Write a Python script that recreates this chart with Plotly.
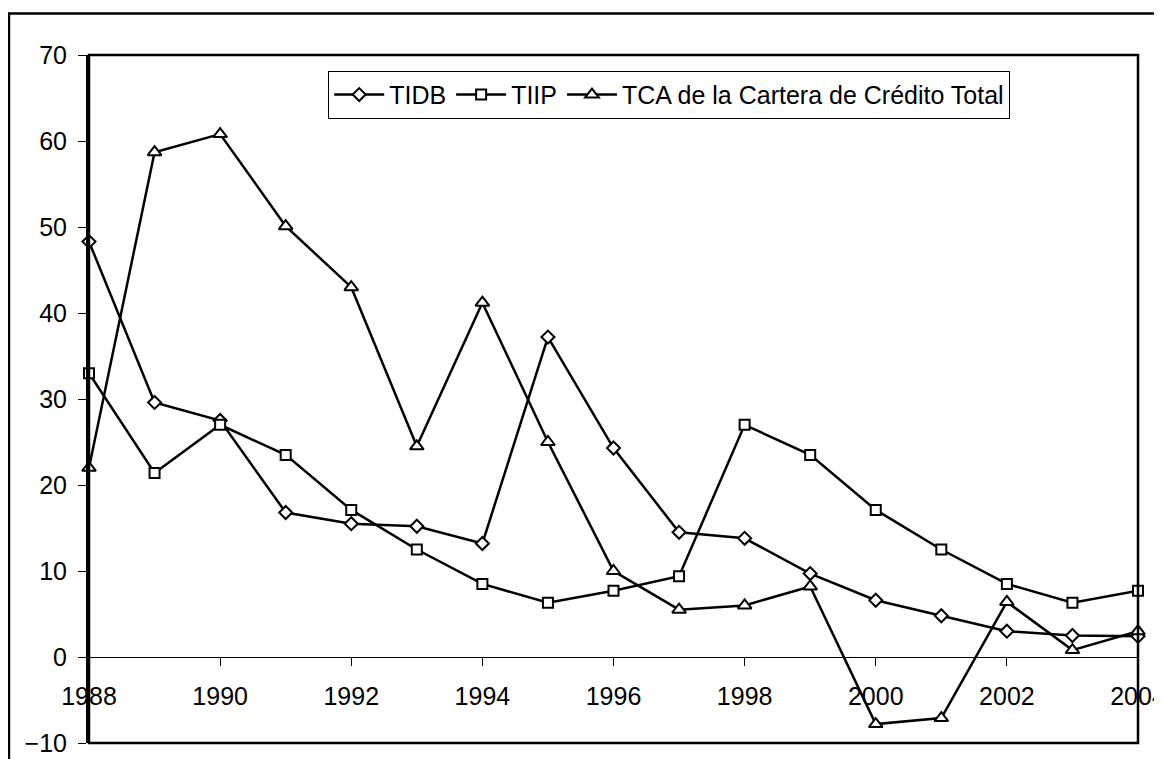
import plotly.graph_objects as go

# years on the x axis
years = list(range(1988, 2005))

# values
tidb = [48.3, 29.6, 27.5, 16.8, 15.5, 15.2, 13.2, 37.2, 24.3, 14.5, 13.8, 9.7, 6.6, 4.8, 3.0, 2.5, 2.4]
tiip = [33.0, 21.4, 27.0, 23.5, 17.1, 12.5, 8.5, 6.3, 7.7, 9.4, 27.0, 23.5, 17.1, 12.5, 8.5, 6.3, 7.7]
tca = [22.0, 58.7, 60.8, 50.1, 43.0, 24.5, 41.2, 25.0, 10.0, 5.5, 6.0, 8.2, -7.8, -7.1, 6.4, 0.8, 3.0]

series_names = ["TIDB", "TIIP", "TCA de la Cartera de Crédito Total"]

FONT = "Liberation Sans, Arial, sans-serif"

fig = go.Figure()

for name, vals, sym, sz in [
    (series_names[0], tidb, "diamond", 10),
    (series_names[1], tiip, "square", 10),
    (series_names[2], tca, "triangle-up", 12),
]:
    fig.add_trace(go.Scatter(
        x=years, y=vals, name=name, mode="lines+markers",
        line=dict(color="black", width=2.5),
        marker=dict(symbol=sym, size=sz, color="white",
                    line=dict(color="black", width=2)),
        cliponaxis=False,
    ))

# page body has an 8px margin, so the figure is a bit smaller than the window
fig.update_layout(
    width=1154, height=751,
    margin=dict(l=81, r=24, t=47, b=16),
    plot_bgcolor="white", paper_bgcolor="white",
    font=dict(family=FONT, size=25, color="black"),
    showlegend=True,
    legend=dict(
        orientation="h", x=0.228, y=0.977, xanchor="left", yanchor="top",
        bordercolor="black", borderwidth=1, bgcolor="white",
        font=dict(size=25), itemwidth=50, tracegroupgap=0,
    ),
)

fig.update_yaxes(
    range=[-10, 70], dtick=10, showgrid=False, zeroline=False, automargin=False,
    ticks="outside", ticklen=8, tickcolor="black", tickwidth=1,
    ticklabelstandoff=6,
    showline=True, linecolor="black", linewidth=3,
)

fig.update_xaxes(
    range=[1988, 2004], dtick=2, tick0=1988, showgrid=False, zeroline=False,
    automargin=False, anchor="free", position=0.125,
    ticks="outside", ticklen=8, tickcolor="black", tickwidth=1,
    ticklabeloverflow="allow", ticklabelstandoff=9,
    showline=True, linecolor="black", linewidth=1,
)

# plot area frame
fig.add_shape(type="rect", xref="paper", yref="paper", x0=0, y0=0, x1=1, y1=1,
              line=dict(color="black", width=2.5), layer="above")
# outer chart border
fig.add_shape(type="rect", xref="paper", yref="paper",
              x0=-0.0763, y0=-0.1, x1=1.1, y1=1.0603,
              line=dict(color="black", width=2.5), layer="above")

fig.write_html("out.html")
